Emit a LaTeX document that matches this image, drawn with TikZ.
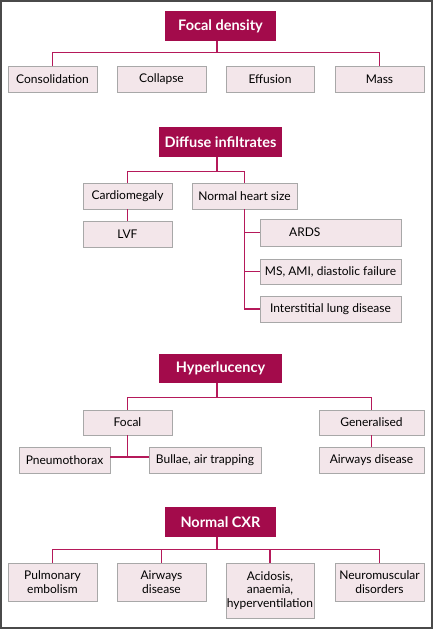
\documentclass[tikz,border=0pt]{standalone}
\usepackage{fontspec}
\setmainfont{Lato}
\definecolor{titlefill}{HTML}{A30B4B}
\definecolor{linkcol}{HTML}{B5195A}
\definecolor{boxfill}{HTML}{F3E6EA}
\definecolor{boxline}{HTML}{A8A8A8}
\definecolor{framecol}{HTML}{4A4A4A}
\begin{document}
\begin{tikzpicture}[x=1pt,y=-1pt,
  titlebox/.style={fill=titlefill, draw=none, text=white, font=\fontsize{14.5}{16}\selectfont\bfseries, inner sep=0pt, align=center},
  itembox/.style={fill=boxfill, draw=boxline, line width=0.9pt, text=black, font=\fontsize{12}{13.8}\selectfont, inner sep=0pt, align=center},
  itemtext/.style={text=black, font=\fontsize{12}{13.8}\selectfont, inner sep=0pt},
  link/.style={draw=linkcol, line width=1.5pt}]
\useasboundingbox (0,0) rectangle (433,629);
\draw[framecol, line width=2pt] (1,1) rectangle (432,628);

% Section 1
\node[titlebox, minimum width=111pt, minimum height=30pt] (fd) at (220.5,26) {Focal density};
\node[itembox, minimum width=89pt, minimum height=26pt] (cons) at (52.5,79) {Consolidation};
\node[itembox, minimum width=89pt, minimum height=26pt] (coll) at (161.5,79) {Collapse};
\node[itembox, minimum width=88pt, minimum height=26pt] (eff) at (270,79) {Effusion};
\node[itembox, minimum width=89pt, minimum height=26pt] (mass) at (379.5,79) {Mass};
\draw[link] ([xshift=-3.5pt]fd.south) -- ++(0,12);
\draw[link] (cons.north) -- ++(0,-13) -| (mass.north);

% Section 2
\node[titlebox, minimum width=123pt, minimum height=30pt] (di) at (220.5,142) {Diffuse infiltrates};
\node[itembox, minimum width=89pt, minimum height=26pt] (card) at (127.5,196) {Cardiomegaly};
\node[itembox, minimum width=105pt, minimum height=26pt] (nhs) at (244.5,196) {Normal heart size};
\node[itembox, minimum width=89pt, minimum height=26pt] (lvf) at (127.5,234) {LVF};
\node[itembox, minimum width=141pt, minimum height=27pt] (ards) at (330.5,232.5) {};
\node[itemtext, anchor=west] (ardstext) at (289,232.5) {ARDS};
\node[itembox, minimum width=141pt, minimum height=25pt] (ms) at (330.5,271.5) {MS, AMI, diastolic failure};
\node[itembox, minimum width=141pt, minimum height=26pt] (ild) at (330.5,309) {Interstitial lung disease};
\draw[link] ([xshift=-3.5pt]di.south) -- ++(0,15);
\draw[link] (card.north) -- ++(0,-11) -| (nhs.north);
\draw[link] (card.south) -- (lvf.north);
\draw[link] (nhs.south) |- (ild.west);
\draw[link] (ards.west) -- (ards.west -| nhs.south);
\draw[link] (ms.west) -- (ms.west -| nhs.south);

% Section 3
\node[titlebox, minimum width=123pt, minimum height=29pt] (hyp) at (220.5,368.5) {Hyperlucency};
\node[itembox, minimum width=89pt, minimum height=25pt] (focal) at (127.5,422.5) {Focal};
\node[itembox, minimum width=105pt, minimum height=25pt] (gen) at (371.5,422.5) {Generalised};
\node[itembox, minimum width=91pt, minimum height=26pt] (pneu) at (64.5,460) {Pneumothorax};
\node[itembox, minimum width=112pt, minimum height=26pt] (bul) at (205,460) {Bullae, air trapping};
\node[itembox, minimum width=105pt, minimum height=26pt] (air) at (371.5,460) {Airways disease};
\coordinate (fj) at (127.5,457);
\draw[link] ([xshift=-3.5pt]hyp.south) -- ++(0,15);
\draw[link] (focal.north) -- ++(0,-12) -| (gen.north);
\draw[link] (focal.south) -- (fj);
\draw[link] (pneu.east |- fj) -- (bul.west |- fj);
\draw[link] (gen.south) -- (air.north);

% Section 4
\node[titlebox, minimum width=111pt, minimum height=30pt] (ncxr) at (220.5,522) {Normal CXR};
\node[itembox, minimum width=89pt, minimum height=38pt] (pe) at (52.5,582) {Pulmonary\\embolism};
\node[itembox, minimum width=89pt, minimum height=38pt] (aw) at (161.5,582) {Airways\\disease};
\node[itembox, minimum width=88pt, minimum height=55pt] (acid) at (270,590.5) {Acidosis,\\anaemia,\\hyperventilation};
\node[itembox, minimum width=89pt, minimum height=38pt] (neuro) at (379.5,582) {Neuromuscular\\disorders};
\draw[link] ([xshift=-3.5pt]ncxr.south) -- ++(0,13);
\draw[link] (pe.north) -- ++(0,-13) -| (neuro.north);
\draw[link] (aw.north) -- ++(0,-13);
\draw[link] (acid.north) -- ++(0,-13);
\end{tikzpicture}
\end{document}
